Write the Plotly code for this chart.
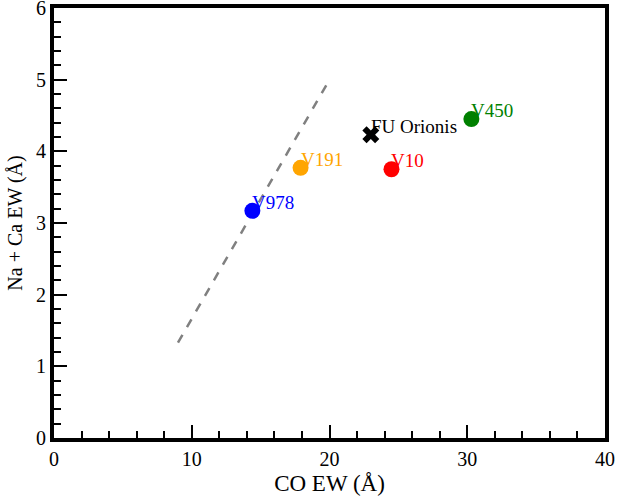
import plotly.graph_objects as go

names = ["V978", "V191", "V10", "V450"]
co_ew = [14.4, 17.9, 24.5, 30.3]
naca_ew = [3.17, 3.77, 3.75, 4.45]
colors = ["blue", "orange", "red", "green"]

fu_name = "FU Orionis"
fu_co = [23.0]
fu_naca = [4.23]

line_x = [9.0, 20.0]
line_y = [1.33, 5.0]

FONT = "Liberation Serif"

fig = go.Figure()
fig.add_trace(go.Scatter(x=line_x, y=line_y, mode="lines",
                         line=dict(color="gray", width=2.5, dash="dash"),
                         showlegend=False, hoverinfo="skip"))
fig.add_trace(go.Scatter(x=co_ew, y=naca_ew, mode="markers",
                         marker=dict(color=colors, size=16, symbol="circle"),
                         showlegend=False))
fig.add_trace(go.Scatter(x=fu_co, y=fu_naca, mode="markers",
                         marker=dict(color="black", size=15, symbol="x"),
                         showlegend=False))

for n, xv, yv, c in zip(names, co_ew, naca_ew, colors):
    fig.add_annotation(x=xv, y=yv, text=n, showarrow=False, xanchor="left",
                       yanchor="bottom", font=dict(family=FONT, size=19, color=c),
                       xshift=-2, yshift=-4)
fig.add_annotation(x=fu_co[0], y=fu_naca[0], text=fu_name, showarrow=False,
                   xanchor="left", yanchor="bottom",
                   font=dict(family=FONT, size=19, color="black"),
                   xshift=-2, yshift=-4)

axis_common = dict(showline=True, linecolor="black", linewidth=4, mirror=True,
                   showgrid=False, zeroline=False, ticks="inside", automargin=False,
                   ticklabeloverflow="allow",
                   tickcolor="black", tickwidth=1.5, ticklen=13,
                   tickfont=dict(family=FONT, size=20, color="black"))

fig.update_xaxes(range=[0, 40], dtick=10,
                 minor=dict(dtick=2, ticks="inside", ticklen=7, tickwidth=1.5, tickcolor="black"),
                 title=dict(text="CO EW (Å)", font=dict(family=FONT, size=23, color="black"), standoff=7),
                 **axis_common)
fig.update_yaxes(range=[0, 6], dtick=1,
                 minor=dict(dtick=0.2, ticks="inside", ticklen=7, tickwidth=1.5, tickcolor="black"),
                 title=dict(text="Na + Ca EW (Å)", font=dict(family=FONT, size=20, color="black"), standoff=9),
                 **axis_common)

fig.update_layout(width=617, height=501, plot_bgcolor="white", paper_bgcolor="white",
                  font=dict(family=FONT),
                  margin=dict(l=54, r=12, t=8, b=63), showlegend=False)

fig.write_html("out.html", config={"displayModeBar": False},
               post_script="document.body.style.margin='0';")
